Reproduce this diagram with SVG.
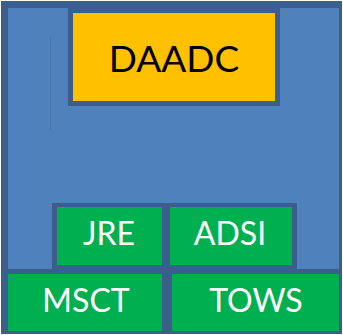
<svg xmlns="http://www.w3.org/2000/svg" width="343" height="335" viewBox="0 0 343 335">
<style>
.dk{fill:#3b5f8c}
.bl{fill:#4f81bd}
.gr{fill:#00b050}
.yl{fill:#ffc000}
.t{font-family:Lato,"Open Sans","Liberation Sans",sans-serif;text-anchor:middle}
.w{fill:#ffffff;font-size:32px}
</style>
<g id="container">
<rect class="dk" x="1" y="1" width="341" height="333"/>
<rect class="bl" x="8" y="8" width="331" height="261"/>
<line x1="50.5" y1="37" x2="50.5" y2="130" stroke="#4876ab" stroke-width="1"/>
</g>
<g id="daadc">
<rect class="dk" x="68" y="8" width="212" height="98"/>
<rect class="yl" x="73" y="13" width="202" height="88"/>
<text class="t" x="174" y="72" font-size="37" fill="#000000">DAADC</text>
</g>
<g id="jre-adsi-frame">
<rect class="dk" x="52" y="203" width="245" height="66"/>
</g>
<g id="jre">
<rect class="gr" x="57" y="207" width="105" height="58"/>
<text class="t w" x="109" y="245">JRE</text>
</g>
<g id="adsi">
<rect class="gr" x="170" y="207" width="122" height="58"/>
<text class="t w" x="230" y="245">ADSI</text>
</g>
<g id="msct">
<rect class="gr" x="8" y="274" width="154" height="57"/>
<text class="t w" x="86" y="312">MSCT</text>
</g>
<g id="tows">
<rect class="gr" x="172" y="274" width="167" height="57"/>
<text class="t w" x="256" y="312">TOWS</text>
</g>
</svg>
